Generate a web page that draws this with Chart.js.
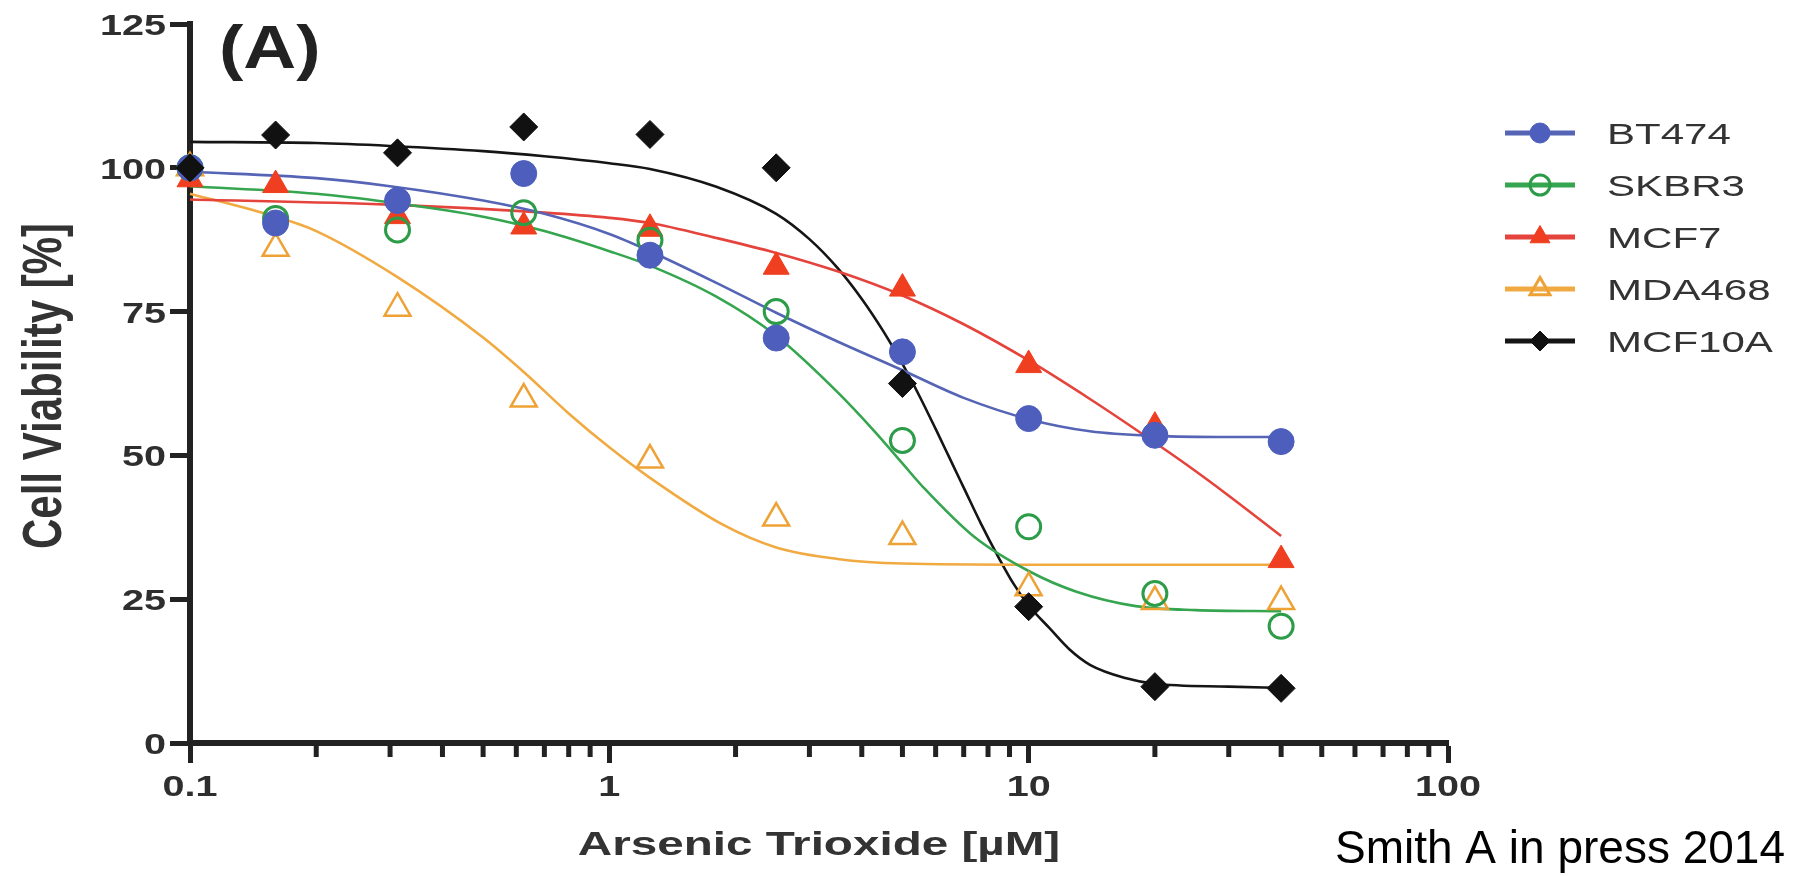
<!DOCTYPE html>
<html>
<head>
<meta charset="utf-8">
<script src="https://cdn.jsdelivr.net/npm/chart.js@4.4.0/dist/chart.umd.min.js"></script>
<style>
html,body{margin:0;padding:0;background:#ffffff;}
#wrap{position:relative;width:1805px;height:876px;}
</style>
</head>
<body>
<div id="wrap"><canvas id="c"></canvas></div>
<script>
// ---------------- DATA ----------------
const seriesNames = ['BT474', 'SKBR3', 'MCF7', 'MDA468', 'MCF10A'];
const concentrations = [0.1, 0.16, 0.3125, 0.625, 1.25, 2.5, 5, 10, 20, 40];

const bt474  = [100, 90.4, 94.3, 99.0, 84.8, 70.4, 68.0, 56.4, 53.5, 52.4];
const skbr3  = [100, 91.2, 89.2, 92.2, 87.4, 75.0, 52.6, 37.6, 26.0, 20.3];
const mcf7   = [98.0, 97.0, 91.6, 89.8, 89.4, 82.8, 79.0, 65.7, 55.0, 31.8];
const mda468 = [100, 86.0, 75.6, 59.8, 49.2, 39.1, 35.9, 27.0, 24.6, 24.6];
const mcf10a = [100, 105.7, 102.6, 107.1, 105.8, 100.0, 62.5, 23.7, 9.8, 9.5];

// fitted curves
const bt474CurveX  = [0.1, 0.2, 0.3, 0.5, 0.7, 1, 1.25, 1.8, 2.5, 3.5, 5, 7, 10, 14, 20, 30, 40];
const bt474CurveY  = [99.3, 98.2, 96.8, 94.3, 92, 88.5, 85.5, 80, 74.8, 69.8, 64.8, 60, 56.3, 54.2, 53.4, 53.2, 53.2];
const skbr3CurveX  = [0.1, 0.2, 0.3, 0.5, 0.7, 1, 1.25, 1.8, 2.5, 3.5, 4.3, 5, 5.6, 7.4, 10, 13, 18, 25, 40];
const skbr3CurveY  = [96.8, 95.5, 94, 91.5, 89, 85.5, 83, 77.6, 70.8, 61, 54.1, 48.6, 44.5, 35.9, 29.9, 26.3, 23.8, 23.1, 22.9];
const mcf7CurveX   = [0.1, 0.3, 0.7, 1, 1.25, 1.8, 2.5, 3.5, 5, 7, 10, 14, 18, 24, 30, 40];
const mcf7CurveY   = [94.5, 93.6, 92.2, 91.3, 90.4, 87.8, 85.2, 82.0, 77.8, 72.8, 66.5, 59.8, 54.5, 48.2, 43, 36];
const mda468CurveX = [0.1, 0.16, 0.2, 0.3125, 0.5, 0.625, 0.8, 1, 1.25, 1.86, 2.5, 3.5, 5, 10, 20, 40];
const mda468CurveY = [95.5, 91.5, 89, 81, 70.5, 64.5, 57.3, 51.4, 46.1, 38, 34, 32, 31.2, 31, 31, 31];
const mcf10aCurveX = [0.1, 0.2, 0.3, 0.5, 0.7, 1, 1.25, 1.8, 2.5, 3, 3.5, 4, 4.5, 5, 5.5, 6, 6.5, 7, 7.7, 8.4, 9.2, 10, 11.2, 12.5, 14, 17, 20, 30, 40];
const mcf10aCurveY = [104.5, 104.3, 103.8, 102.9, 102, 100.8, 99.8, 96.7, 92, 87.6, 82.6, 77.2, 71.6, 65.9, 60.2, 54.6, 49.3, 44.4, 38.1, 32.8, 27.7, 23.9, 20, 16.3, 13.6, 11.3, 10.3, 9.8, 9.6];

const xMajorTicks = [0.1, 1, 10, 100];
const xTickLabels = ['0.1', '1', '10', '100'];
const xMinorTicks = [0.2, 0.3, 0.4, 0.5, 0.6, 0.7, 0.8, 0.9, 2, 3, 4, 5, 6, 7, 8, 9, 20, 30, 40, 50, 60, 70, 80, 90];
const yTickStep = 25;
const xTitle = 'Arsenic Trioxide [µM]';
const yTitle = 'Cell Viability [%]';
const panelLabel = '(A)';
const creditText = 'Smith A in press 2014';

// ---------------- STYLE ----------------
const FONT = "'Liberation Sans', Arial, Helvetica, sans-serif";
const seriesStyle = {
  BT474:  {color: '#4d5ebd', line: '#5564b5', pointStyle: 'circle',   filled: true,  radius: 13,  bw: 1,   order: 2},
  SKBR3:  {color: '#2c9c48', line: '#36a54f', pointStyle: 'circle',   filled: false, radius: 12,  bw: 3,   order: 3},
  MCF7:   {color: '#ef3f20', line: '#e4443c', pointStyle: 'triangle', filled: true,  radius: 15,  bw: 1,   order: 4},
  MDA468: {color: '#eea236', line: '#f1aa42', pointStyle: 'triangle', filled: false, radius: 15,  bw: 2.5, order: 5},
  MCF10A: {color: '#111111', line: '#151515', pointStyle: 'rectRot',  filled: true,  radius: 14,  bw: 1,   order: 1}
};
const textStyle = {
  tick:   {font: 'bold 30px ' + FONT, color: '#2e2e2e', stretch: 1.32},
  xTitle: {font: 'bold 34px ' + FONT, color: '#333333', stretch: 1.4, x: 819, y: 855},
  yTitle: {font: 'bold 42px ' + FONT, color: '#333333', stretch: 1.3, x: 61, y: 386},
  legend: {font: '29px ' + FONT, color: '#333333', stretch: 1.45},
  panel:  {font: 'bold 62px ' + FONT, color: '#222222', stretch: 1.18, x: 219, y: 68},
  credit: {font: '46px ' + FONT, color: '#000000', stretch: 1.0, x: 1335, y: 863}
};
const markerValues = {BT474: bt474, SKBR3: skbr3, MCF7: mcf7, MDA468: mda468, MCF10A: mcf10a};
const curveData = {
  BT474: [bt474CurveX, bt474CurveY], SKBR3: [skbr3CurveX, skbr3CurveY], MCF7: [mcf7CurveX, mcf7CurveY],
  MDA468: [mda468CurveX, mda468CurveY], MCF10A: [mcf10aCurveX, mcf10aCurveY]
};

const datasets = [];
seriesNames.forEach((name, k) => {
  const st = seriesStyle[name];
  const [cx, cy] = curveData[name];
  datasets.push({
    type: 'line', label: name + ' fit',
    data: cx.map((x, i) => ({x: x, y: cy[i]})),
    borderColor: st.line, borderWidth: 2.6, pointRadius: 0, pointHoverRadius: 0,
    fill: false, cubicInterpolationMode: 'monotone', clip: false, order: 20 + k
  });
  datasets.push({
    type: 'scatter', label: name,
    data: concentrations.map((x, i) => ({x: x, y: markerValues[name][i]})).filter(p => p.y !== null),
    pointStyle: st.pointStyle, pointRadius: st.radius, pointHoverRadius: st.radius,
    backgroundColor: st.filled ? st.color : 'rgba(0,0,0,0)', borderColor: st.color,
    borderWidth: st.bw, showLine: false, clip: false, order: st.order
  });
});

function drawText(ctx, text, x, y, style, align, rotate) {
  ctx.save();
  ctx.translate(x, y);
  ctx.scale(style.stretch, 1);
  if (rotate) ctx.rotate(-Math.PI / 2);
  ctx.font = style.font; ctx.fillStyle = style.color;
  ctx.textAlign = align; ctx.textBaseline = 'alphabetic';
  ctx.fillText(text, 0, 0);
  ctx.restore();
}

const minorTickPlugin = {
  id: 'minorTicks',
  afterDraw(chart) {
    const s = chart.scales.x, ctx = chart.ctx, y0 = chart.chartArea.bottom;
    ctx.save();
    ctx.strokeStyle = '#222'; ctx.lineWidth = 5; ctx.lineCap = 'butt';
    xMinorTicks.forEach(v => {
      const px = s.getPixelForValue(v);
      ctx.beginPath(); ctx.moveTo(px, y0); ctx.lineTo(px, y0 + 14); ctx.stroke();
    });
    ctx.restore();
  }
};

// tick labels & axis titles drawn at positions given by the chart's scales
const axisTextPlugin = {
  id: 'axisText',
  afterDraw(chart) {
    const ctx = chart.ctx, xs = chart.scales.x, ys = chart.scales.y;
    xs.ticks.forEach((t, i) => {
      drawText(ctx, xTickLabels[i], xs.getPixelForValue(t.value), chart.chartArea.bottom + 53, textStyle.tick, 'center', false);
    });
    ys.ticks.forEach(t => {
      drawText(ctx, String(t.value), chart.chartArea.left - 24, ys.getPixelForValue(t.value) + 11, textStyle.tick, 'right', false);
    });
    drawText(ctx, xTitle, textStyle.xTitle.x, textStyle.xTitle.y, textStyle.xTitle, 'center', false);
    drawText(ctx, yTitle, textStyle.yTitle.x, textStyle.yTitle.y, textStyle.yTitle, 'center', true);
  }
};

const legendBox = {lineX0: 1505, lineX1: 1575, textX: 1607, top: 133, step: 52, markerRadius: 10};
const legendPlugin = {
  id: 'customLegend',
  afterDraw(chart) {
    const ctx = chart.ctx;
    ctx.save();
    seriesNames.forEach((name, i) => {
      const st = seriesStyle[name];
      const y = legendBox.top + i * legendBox.step;
      ctx.strokeStyle = st.line; ctx.lineWidth = 5;
      ctx.beginPath(); ctx.moveTo(legendBox.lineX0, y); ctx.lineTo(legendBox.lineX1, y); ctx.stroke();
      ctx.fillStyle = st.filled ? st.color : 'rgba(0,0,0,0)';
      ctx.strokeStyle = st.color; ctx.lineWidth = st.filled ? 1 : 3;
      Chart.helpers.drawPoint(ctx, {pointStyle: st.pointStyle, radius: legendBox.markerRadius * (st.pointStyle === 'triangle' ? 1.15 : 1), borderWidth: ctx.lineWidth, rotation: 0}, (legendBox.lineX0 + legendBox.lineX1) / 2, y);
      drawText(ctx, name, legendBox.textX, y + 10.5, textStyle.legend, 'left', false);
    });
    ctx.restore();
  }
};

const annotPlugin = {
  id: 'annotText',
  afterDraw(chart) {
    const ctx = chart.ctx;
    drawText(ctx, panelLabel, textStyle.panel.x, textStyle.panel.y, textStyle.panel, 'left', false);
    drawText(ctx, creditText, textStyle.credit.x, textStyle.credit.y, textStyle.credit, 'left', false);
  }
};

new Chart(document.getElementById('c'), {
  type: 'scatter',
  data: {datasets: datasets},
  options: {
    responsive: true, maintainAspectRatio: false, animation: false,
    layout: {padding: {left: 0, right: 357, top: 24, bottom: 0}},
    plugins: {legend: {display: false}, tooltip: {enabled: false}, title: {display: false}},
    scales: {
      x: {
        type: 'logarithmic', min: 0.1, max: 100, position: 'bottom',
        afterBuildTicks: s => { s.ticks = xMajorTicks.map(v => ({value: v, major: true})); },
        afterFit: s => { s.height = 133; },
        ticks: {display: false, autoSkip: false, maxRotation: 0},
        grid: {drawOnChartArea: false, drawTicks: true, tickLength: 20, tickWidth: 5, tickColor: '#222'},
        border: {display: true, width: 6, color: '#222'},
        title: {display: false}
      },
      y: {
        min: 0, max: 125,
        afterFit: s => { s.width = 190; },
        ticks: {display: false, stepSize: yTickStep},
        grid: {drawOnChartArea: false, drawTicks: true, tickLength: 20, tickWidth: 5, tickColor: '#222'},
        border: {display: true, width: 6, color: '#222'},
        title: {display: false}
      }
    }
  },
  plugins: [minorTickPlugin, axisTextPlugin, legendPlugin, annotPlugin]
});
</script>
</body>
</html>
